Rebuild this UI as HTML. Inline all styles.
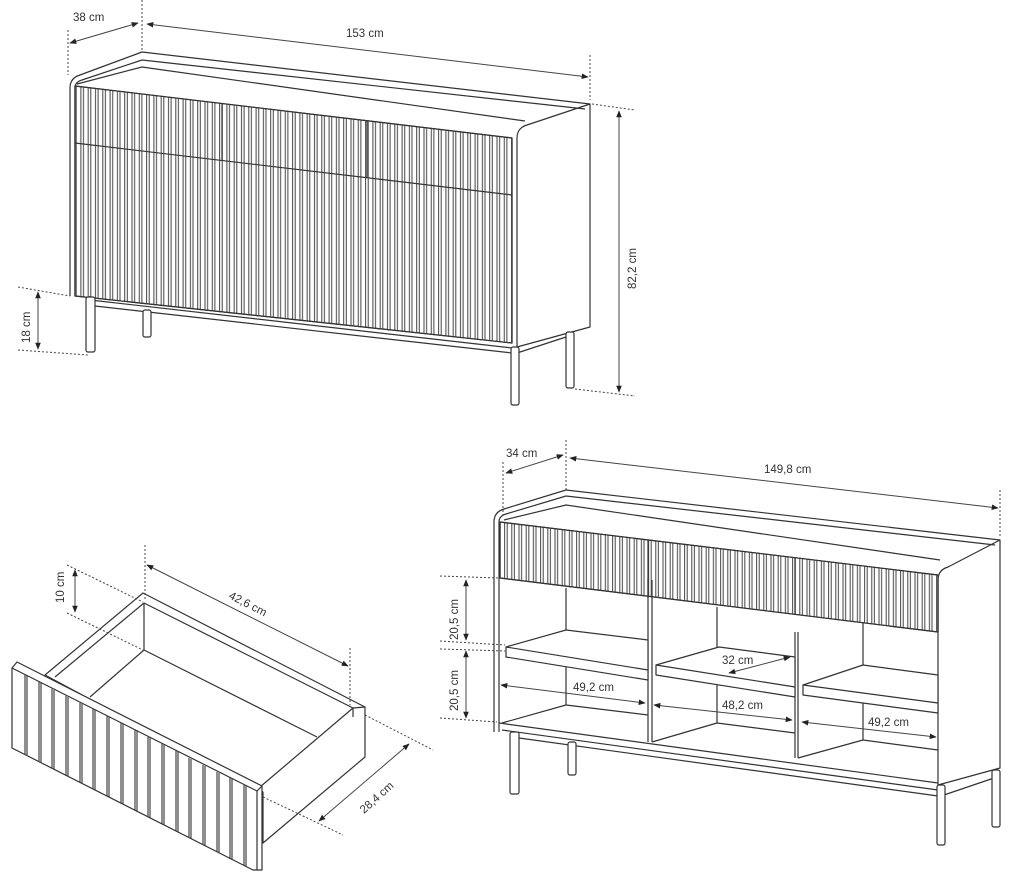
<!DOCTYPE html>
<html><head><meta charset="utf-8"><style>
html,body{margin:0;padding:0;background:#fff}
svg{display:block}
text{font-family:"Liberation Sans",sans-serif;font-size:11.5px;fill:#333}
</style></head><body>
<svg width="1020" height="887" viewBox="0 0 1020 887" xmlns="http://www.w3.org/2000/svg">
<defs>
<pattern id="fl" x="0" y="0" width="7.3" height="10" patternUnits="userSpaceOnUse">
<line x1="0.6" y1="0" x2="0.6" y2="10" stroke="#444" stroke-width="1"/>
<line x1="3.2" y1="0" x2="3.2" y2="10" stroke="#444" stroke-width="1"/>
</pattern>
<pattern id="fl2" x="0" y="0" width="7.2" height="10" patternUnits="userSpaceOnUse">
<line x1="0.6" y1="0" x2="0.6" y2="10" stroke="#444" stroke-width="1"/>
<line x1="3.2" y1="0" x2="3.2" y2="10" stroke="#444" stroke-width="1"/>
</pattern>
<marker id="ah" viewBox="0 0 10 10" refX="9" refY="5" markerWidth="7" markerHeight="7" orient="auto-start-reverse"><path d="M0,1 L10,5 L0,9 z" fill="#222"/></marker>
</defs>
<g fill="none" stroke="#333" stroke-width="1.2" stroke-linejoin="round">
<!-- ============ TOP SIDEBOARD ============ -->
<path d="M70,296 L70,88 Q70,78 80,75 L142,52 L590,104 L590,327 L517,347 L517,138 Q517,128 527,125 L590,104" fill="#fff"/>
<path d="M75,296 L75,88 Q75,82 82,80 L142,60 L585,109"/>
<path d="M77,84 L142,67 L525,121"/>
<polygon points="75,86 512,138 512,343 75,296" fill="url(#fl)"/>
<polygon points="75,86 512,138 512,343 75,296"/>
<line x1="75" y1="143" x2="512" y2="195"/>
<line x1="222" y1="103" x2="222" y2="160"/>
<line x1="367" y1="121" x2="367" y2="178"/>
<path d="M90,296 L90,300 L512,348"/>
<path d="M95,306 L512,353"/>
<path d="M517,353 L566,337"/>
<rect x="86" y="297" width="9" height="55" rx="2" fill="#fff"/>
<rect x="143" y="310" width="8" height="27" rx="2" fill="#fff"/>
<rect x="511" y="347" width="8" height="58" rx="2" fill="#fff"/>
<rect x="566" y="332" width="8" height="56" rx="2" fill="#fff"/>
</g>
<!-- top dims -->
<g stroke="#444" stroke-width="1" fill="none">
<path d="M68,30 L68,75 M142,0 L142,52 M590,55 L590,100 M592,104 L635,110 M575,389 L635,396 M18,287 L70,296 M18,350 L88,355" stroke-dasharray="2,2"/>
<line x1="70" y1="43" x2="138" y2="23" marker-start="url(#ah)" marker-end="url(#ah)"/>
<line x1="147" y1="24" x2="588" y2="77" marker-start="url(#ah)" marker-end="url(#ah)"/>
<line x1="619" y1="111" x2="619" y2="392" marker-start="url(#ah)" marker-end="url(#ah)"/>
<line x1="38" y1="292" x2="38" y2="349" marker-start="url(#ah)" marker-end="url(#ah)"/>
</g>
<text x="73" y="21">38 cm</text>
<text x="346" y="37">153 cm</text>
<text transform="translate(636,289) rotate(-90)">82,2 cm</text>
<text transform="translate(30,343) rotate(-90)">18 cm</text>

<!-- ============ DRAWER ============ -->
<g fill="none" stroke="#333" stroke-width="1.2" stroke-linejoin="round">
<polygon points="45,675 143,593 365,707 365,757 263,843 263,792" fill="#fff"/>
<polyline points="55,677 144,603 353,708 260,787"/>
<polyline points="144,603 144,650 317,737"/>
<line x1="144" y1="650" x2="90" y2="697"/>
<line x1="353" y1="708" x2="353" y2="717"/>
<line x1="365" y1="707" x2="353" y2="708"/>
<polygon points="12,668 17,662 262,786 262,870 253,870 12,748" fill="#fff"/>
<line x1="12" y1="668" x2="257" y2="791"/>
<line x1="257" y1="791" x2="262" y2="786"/>
<line x1="257" y1="791" x2="257" y2="870"/>
</g>
<g stroke="#333" stroke-width="1.1">
<line x1="25" y1="675" x2="25" y2="754"/><line x1="27" y1="676" x2="27" y2="755"/>
<line x1="39" y1="682" x2="39" y2="761"/><line x1="41" y1="683" x2="41" y2="762"/>
<line x1="52" y1="689" x2="52" y2="768"/><line x1="54" y1="690" x2="54" y2="769"/>
<line x1="66" y1="696" x2="66" y2="775"/><line x1="68" y1="697" x2="68" y2="776"/>
<line x1="80" y1="703" x2="80" y2="782"/><line x1="82" y1="704" x2="82" y2="783"/>
<line x1="93" y1="709" x2="93" y2="789"/><line x1="95" y1="710" x2="95" y2="790"/>
<line x1="107" y1="716" x2="107" y2="796"/><line x1="109" y1="717" x2="109" y2="797"/>
<line x1="121" y1="723" x2="121" y2="803"/><line x1="123" y1="724" x2="123" y2="804"/>
<line x1="135" y1="730" x2="135" y2="810"/><line x1="137" y1="731" x2="137" y2="811"/>
<line x1="148" y1="737" x2="148" y2="817"/><line x1="150" y1="738" x2="150" y2="818"/>
<line x1="162" y1="744" x2="162" y2="824"/><line x1="164" y1="745" x2="164" y2="825"/>
<line x1="176" y1="751" x2="176" y2="831"/><line x1="178" y1="752" x2="178" y2="832"/>
<line x1="189" y1="758" x2="189" y2="838"/><line x1="191" y1="759" x2="191" y2="839"/>
<line x1="203" y1="765" x2="203" y2="845"/><line x1="205" y1="766" x2="205" y2="846"/>
<line x1="217" y1="772" x2="217" y2="852"/><line x1="219" y1="773" x2="219" y2="853"/>
<line x1="230" y1="778" x2="230" y2="859"/><line x1="232" y1="779" x2="232" y2="860"/>
<line x1="244" y1="785" x2="244" y2="865"/><line x1="246" y1="786" x2="246" y2="866"/>
</g>
<g stroke="#444" stroke-width="1" fill="none">
<path d="M145,545 L145,600 M350,648 L350,705 M67,565 L143,602 M67,613 L143,650 M365,715 L433,750 M263,797 L343,835" stroke-dasharray="2,2"/>
<line x1="147" y1="565" x2="348" y2="666" marker-start="url(#ah)" marker-end="url(#ah)"/>
<line x1="75" y1="570" x2="75" y2="612" marker-start="url(#ah)" marker-end="url(#ah)"/>
<line x1="409" y1="744" x2="319" y2="821" marker-start="url(#ah)" marker-end="url(#ah)"/>
</g>
<text transform="translate(228,598) rotate(27)">42,6 cm</text>
<text transform="translate(64,603) rotate(-90)">10 cm</text>
<text transform="translate(364,814) rotate(-42)">28,4 cm</text>

<!-- ============ BOTTOM-RIGHT SIDEBOARD ============ -->
<g fill="none" stroke="#333" stroke-width="1.2" stroke-linejoin="round">
<path d="M494,732 L494,522 Q494,512 504,509 L566,490 L1000,540 L1000,768 L938,785 L938,580 Q938,570 948,567 L1000,540" fill="#fff"/>
<path d="M499,732 L499,522 Q499,516 506,514 L566,496 L995,545"/>
<path d="M504,520 L566,505 L940,560"/>
<!-- interior -->
<polyline points="566,588 566,705 648,715"/>
<line x1="502" y1="723" x2="566" y2="705"/>
<polyline points="717,607 717,723 795,733"/>
<line x1="652" y1="742" x2="717" y2="723"/>
<polyline points="863,622 863,740 938,750"/>
<line x1="798" y1="758" x2="863" y2="740"/>
<line x1="648" y1="578" x2="648" y2="742"/>
<line x1="652" y1="580" x2="652" y2="742"/>
<line x1="795" y1="632" x2="795" y2="758"/>
<line x1="798" y1="632" x2="798" y2="758"/>
<!-- shelves -->
<polygon points="506,647 566,630 648,640 648,680 506,657" fill="#fff"/>
<line x1="506" y1="647" x2="648" y2="670"/>
<polygon points="656,665 719,647 795,657 795,697 656,675" fill="#fff"/>
<line x1="656" y1="665" x2="795" y2="687"/>
<polygon points="803,685 863,665 938,675 938,713 803,695" fill="#fff"/>
<line x1="803" y1="685" x2="938" y2="703"/>
<!-- floor & plinth -->
<polyline points="499,723 938,783"/>
<polyline points="502,730 938,790"/>
<line x1="519" y1="738" x2="938" y2="796"/>
<line x1="944" y1="795" x2="994" y2="778"/>
<!-- drawer band -->
<polygon points="500,522 938,575 938,632 500,578" fill="url(#fl2)"/>
<polygon points="500,522 938,575 938,632 500,578"/>
<line x1="648" y1="540" x2="648" y2="598"/>
<line x1="795" y1="557" x2="795" y2="615"/>
<!-- legs -->
<rect x="510" y="732" width="9" height="62" rx="2" fill="#fff"/>
<rect x="568" y="742" width="8" height="33" rx="2" fill="#fff"/>
<rect x="937" y="785" width="8" height="60" rx="2" fill="#fff"/>
<rect x="992" y="770" width="8" height="57" rx="2" fill="#fff"/>
</g>
<g stroke="#444" stroke-width="1" fill="none">
<path d="M503,462 L503,515 M566,440 L566,490 M1000,490 L1000,538 M440,576 L498,578 M440,641 L505,645 M440,649 L505,651 M440,718 L497,722" stroke-dasharray="2,2"/>
<line x1="506" y1="473" x2="563" y2="455" marker-start="url(#ah)" marker-end="url(#ah)"/>
<line x1="570" y1="458" x2="998" y2="508" marker-start="url(#ah)" marker-end="url(#ah)"/>
<line x1="466" y1="580" x2="466" y2="640" marker-start="url(#ah)" marker-end="url(#ah)"/>
<line x1="466" y1="651" x2="466" y2="718" marker-start="url(#ah)" marker-end="url(#ah)"/>
<line x1="501" y1="685" x2="645" y2="703" marker-start="url(#ah)" marker-end="url(#ah)"/>
<line x1="729" y1="673" x2="790" y2="657" marker-start="url(#ah)" marker-end="url(#ah)"/>
<line x1="654" y1="705" x2="792" y2="720" marker-start="url(#ah)" marker-end="url(#ah)"/>
<line x1="802" y1="722" x2="936" y2="737" marker-start="url(#ah)" marker-end="url(#ah)"/>
</g>
<text x="506" y="457">34 cm</text>
<text x="764" y="473">149,8 cm</text>
<text transform="translate(458,640) rotate(-90)">20,5 cm</text>
<text transform="translate(458,711) rotate(-90)">20,5 cm</text>
<text x="573" y="691">49,2 cm</text>
<text x="722" y="664">32 cm</text>
<text x="722" y="709">48,2 cm</text>
<text x="868" y="726">49,2 cm</text>
</svg>
</body></html>
